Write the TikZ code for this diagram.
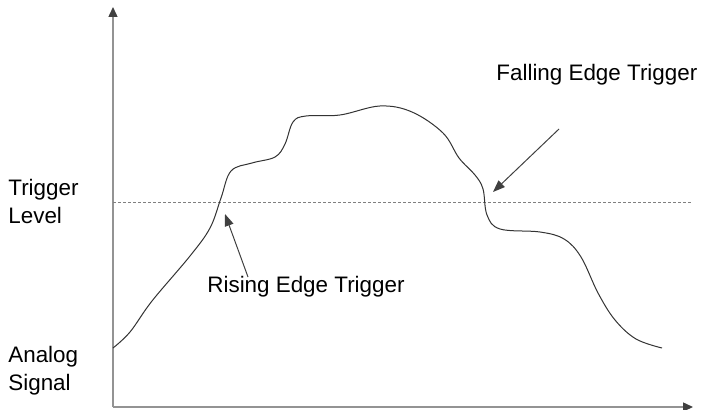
\documentclass[tikz,border=0pt]{standalone}
\usepackage{fontspec}
\setmainfont{Liberation Sans}
\usetikzlibrary{arrows.meta}
\tikzset{
  axis/.style = {
    draw=gray!85,
    line width=0.7pt,
    -{Triangle[length=5pt,width=4.5pt,color=black!75]}
  },
  signal/.style = {
    draw=black!80,
    line width=0.5pt
  },
  level/.style = {
    draw=gray,
    line width=0.5pt,
    dash pattern=on 1.5pt off 1pt
  },
  pointer/.style = {
    draw=black!75,
    line width=0.5pt,
    -{Triangle[length=6pt,width=4.5pt]}
  },
  label/.style = {
    font=\fontsize{11.2}{14}\selectfont,
    inner sep=0pt,
    align=left
  }
}

\begin{document}
\begin{tikzpicture}[x=0.5pt,y=-0.5pt]
\useasboundingbox (0,0) rectangle (704,410);

% Achsen
\coordinate (origin) at (113,407);
\coordinate (ytop) at (113,7);
\coordinate (xend) at (693,407);
\draw[axis] (origin) -- (ytop);
\draw[axis] (origin) -- (xend);

% Triggerpegel
\coordinate (lvlL) at (113,203);
\coordinate (lvlR) at (693,203);
\draw[level] (lvlL) -- (lvlR);

% Analogsignal
\draw[signal] plot[smooth, tension=0.6] coordinates {
  (113,348) (130,332) (152,301) (190,256) (210,228)
  (221,198) (231,171) (252,163) (275,157) (285,144)
  (293,122) (306,116) (340,115) (380,106) (412,112)
  (443,133) (459,158) (475,175) (483,189) (487,215)
  (500,229) (540,232) (564,239) (581,257) (598,293)
  (615,320) (636,339) (662,348)};

% Beschriftungen
\node[label, anchor=west] (trig) at (8,201) {Trigger\\Level};
\node[label, anchor=west] (analog) at (8,371) {Analog\\Signal};
\node[label, anchor=west] (rising) at (207,287) {Rising Edge Trigger};
\node[label, anchor=west] (falling) at (496,75) {Falling Edge Trigger};

% Pfeile
\coordinate (riseTail) at (248,277);
\coordinate (riseTip) at (225,214);
\coordinate (fallTail) at (559,129);
\coordinate (fallTip) at (493,192);
\draw[pointer] (riseTail) -- (riseTip);
\draw[pointer] (fallTail) -- (fallTip);

\end{tikzpicture}
\end{document}
